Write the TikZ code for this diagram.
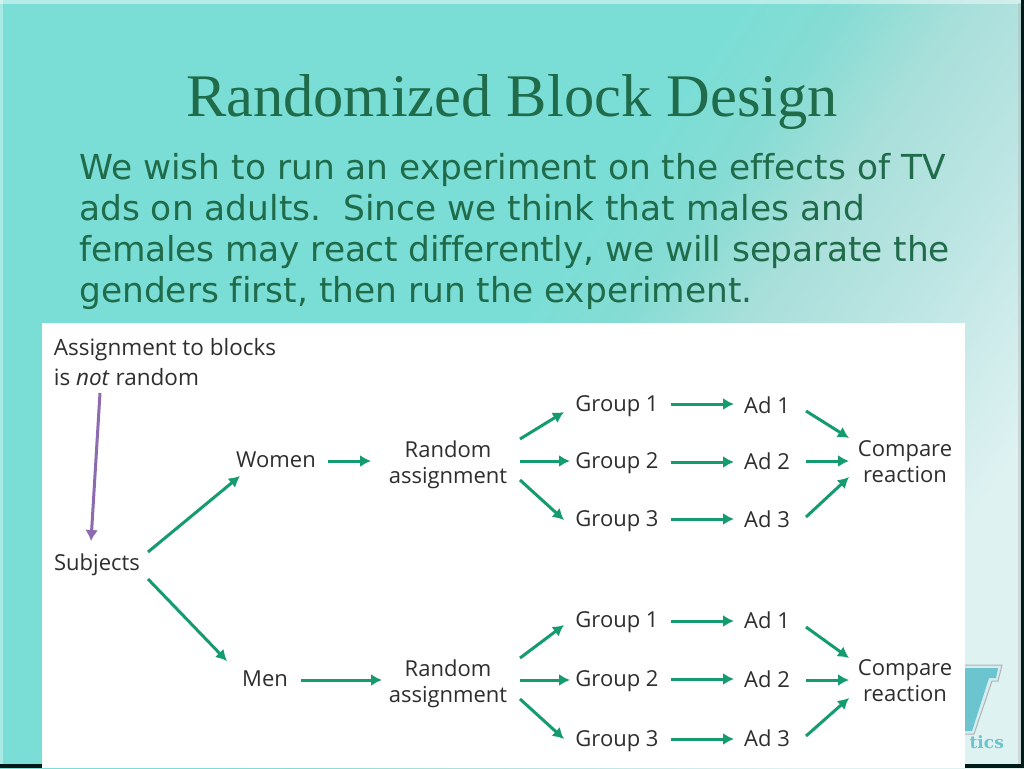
\documentclass[tikz,border=0pt]{standalone}
\usepackage{fontspec}
\setmainfont{Open Sans}
\newfontfamily\titlefont{Liberation Serif}
\newfontfamily\bodyfont[Ligatures=NoCommon]{DejaVu Sans}
\newfontfamily\bodytight[Ligatures=NoCommon,LetterSpace=-0.5]{DejaVu Sans}
\newfontfamily\logofont{DejaVu Serif}
\usetikzlibrary{arrows.meta}
\definecolor{tealbg}{HTML}{7ADED6}
\definecolor{bgA}{HTML}{85DCD4}
\definecolor{bgB}{HTML}{A8DFDA}
\definecolor{bgC}{HTML}{BCE5E3}
\definecolor{bgD}{HTML}{DFF2F2}
\definecolor{titlegreen}{HTML}{1F6B4A}
\definecolor{arrowgreen}{HTML}{159B70}
\definecolor{arrowpurple}{HTML}{8C6BB1}
\definecolor{inktext}{HTML}{2E2E30}
\definecolor{logoteal}{HTML}{6CC4CE}
\pgfdeclarehorizontalshading{slidebg}{100bp}{color(0bp)=(tealbg); color(48.5bp)=(tealbg); color(52.4bp)=(bgA); color(56.8bp)=(bgB); color(62.5bp)=(bgC); color(70.4bp)=(bgD); color(100bp)=(bgD)}
\tikzset{
  lab/.style={font=\fontsize{22}{26}\selectfont, text=inktext, align=center, inner sep=0pt},
  bodyline/.style={font=\bodyfont\fontsize{34.4}{36}\selectfont, text=titlegreen, anchor=base west, inner sep=0pt},
  arr/.style={draw=arrowgreen, line width=3pt, -{Latex[length=11pt,width=12pt]}},
  parr/.style={draw=arrowpurple, line width=3pt, -{Latex[length=11pt,width=13pt]}}
}
\newcommand{\conn}[5][arr]{\draw[#1] ([shift={(#3)}]#2.center) -- ([shift={(#5)}]#4.center);}
\begin{document}
\begin{tikzpicture}[x=1pt,y=-1pt]
\useasboundingbox (0,0) rectangle (1024,768);
% background
\begin{scope}
\clip (0,0) rectangle (1024,768);
\path[shading=slidebg, shading angle=-35] (-100,-100) rectangle (1124,868);
\end{scope}
\fill[white, opacity=.45] (0,0) rectangle (1024,4);
\fill[white, opacity=.35] (0,0) rectangle (3,768);
\fill[black!80!teal] (0,764) rectangle (1024,768);
\fill[black!80!teal] (1021,0) rectangle (1024,768);
\fill[black!30, opacity=.4] (1018,3) rectangle (1021,764);
% logo
\fill[white!70!logoteal, draw=black!30, line width=1pt] (950,665) -- (1002,665) -- (998,681) -- (992,681) -- (974,734) -- (950,734) -- cycle;
\fill[logoteal] (950,668) -- (998,668) -- (996,678) -- (989,678) -- (972,731) -- (950,731) -- cycle;
\node[font=\logofont\bfseries\fontsize{17}{17}\selectfont, text=logoteal, anchor=base east, inner sep=0pt] (logotext) at (1004,748) {tics};
% panel
\fill[white] (42,323) rectangle (965,768);
% title and body
\node[font=\titlefont\fontsize{60.5}{62}\selectfont, text=titlegreen, inner sep=0pt, anchor=base] (title) at (512,116) {Randomized Block Design};
\node[bodyline] (l1) at (79,179) {We wish to run an experiment on the effects of TV};
\node[bodyline] (l2) at (79,220) {ads on adults.\ \ Since we think that males and};
\node[bodyline, font=\bodytight\fontsize{34.4}{36}\selectfont] (l3) at (79,261) {females may react differently, we will separate the};
\node[bodyline] (l4) at (79,302) {genders first, then run the experiment.};
% diagram text
\node[lab, align=left, font=\fontsize{22.5}{30}\selectfont] (note) at (165,362) {Assignment to blocks\\is \textit{not} random};
\node[lab] (subj) at (97,565) {Subjects};
\node[lab] (women) at (276,460) {Women};
\node[lab] (men) at (265,679) {Men};
\node[lab] (ra1) at (448,465) {Random\\assignment};
\node[lab] (ra2) at (448,683.5) {Random\\assignment};
\node[lab] (g11) at (617,406) {Group 1};
\node[lab] (g12) at (617,463) {Group 2};
\node[lab] (g13) at (617,521) {Group 3};
\node[lab] (g21) at (617,622) {Group 1};
\node[lab] (g22) at (617,681) {Group 2};
\node[lab] (g23) at (617,741) {Group 3};
\node[lab] (a11) at (767,405) {Ad 1};
\node[lab] (a12) at (767,461) {Ad 2};
\node[lab] (a13) at (767,519) {Ad 3};
\node[lab] (a21) at (767,620) {Ad 1};
\node[lab] (a22) at (767,679) {Ad 2};
\node[lab] (a23) at (767,738) {Ad 3};
\node[lab] (c1) at (905,462) {Compare\\reaction};
\node[lab] (c2) at (905,681) {Compare\\reaction};
% connectors
\conn[parr]{note}{-65,31}{subj}{-6,-24}
\conn{subj}{51,-13}{women}{-36,16}
\conn{subj}{51,14}{men}{-38,-18}
\conn{women}{52,1}{ra1}{-77,-4}
\conn{men}{36,1}{ra2}{-66,-3.5}
\conn{ra1}{72,-26}{g11}{-53,6}
\conn{ra1}{72,-4}{g12}{-47,-2}
\conn{ra1}{72,15}{g13}{-53,-1}
\conn{ra2}{72,-25.5}{g21}{-53,3}
\conn{ra2}{72,-3.5}{g22}{-47,-1}
\conn{ra2}{72,15.5}{g23}{-53,-2}
\conn{g11}{54,-2}{a11}{-33,-1}
\conn{g12}{54,-1}{a12}{-33,1}
\conn{g13}{54,-2}{a13}{-33,0}
\conn{g21}{54,-1}{a21}{-33,1}
\conn{g22}{54,-2}{a22}{-33,0}
\conn{g23}{54,-2}{a23}{-33,1}
\conn{a11}{39,6}{c1}{-56,-24}
\conn{a12}{39,0}{c1}{-56,-1}
\conn{a13}{39,-2}{c1}{-56,15}
\conn{a21}{39,7}{c2}{-56,-23}
\conn{a22}{39,1}{c2}{-56,-1}
\conn{a23}{39,-2}{c2}{-56,17}
\end{tikzpicture}
\end{document}
